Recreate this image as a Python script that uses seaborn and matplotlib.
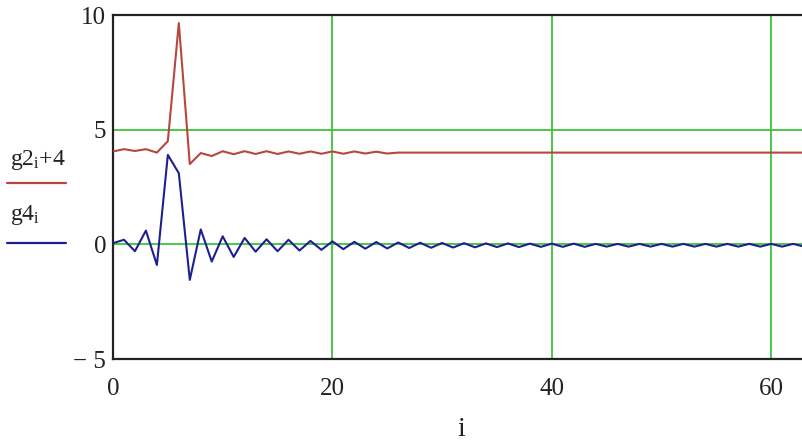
import numpy as np
import pandas as pd
import matplotlib
matplotlib.use("Agg")
import matplotlib.pyplot as plt
from matplotlib.lines import Line2D
import seaborn as sns

# ---- data ----
i_vals = list(range(64))

g2_plus4 = [4.05, 4.15, 4.07, 4.15, 4.00, 4.50, 9.65, 3.50, 3.98, 3.85,
            4.06, 3.93, 4.06, 3.94, 4.06, 3.94, 4.05, 3.95, 4.05, 3.95,
            4.05, 3.95, 4.05, 3.96, 4.04, 3.96, 4.00, 4.00, 4.00, 4.00,
            4.00, 4.00, 4.00, 4.00, 4.00, 4.00, 4.00, 4.00, 4.00, 4.00,
            4.00, 4.00, 4.00, 4.00, 4.00, 4.00, 4.00, 4.00, 4.00, 4.00,
            4.00, 4.00, 4.00, 4.00, 4.00, 4.00, 4.00, 4.00, 4.00, 4.00,
            4.00, 4.00, 4.00, 4.00]

g4 = [0.05, 0.20, -0.30, 0.60, -0.90, 3.90, 3.10, -1.55, 0.65, -0.75,
      0.35, -0.55, 0.28, -0.32, 0.22, -0.30, 0.20, -0.27, 0.15, -0.24,
      0.13, -0.21, 0.11, -0.19, 0.10, -0.18, 0.08, -0.16, 0.07, -0.15,
      0.06, -0.14, 0.05, -0.13, 0.04, -0.12, 0.04, -0.12, 0.03, -0.11,
      0.03, -0.11, 0.03, -0.11, 0.02, -0.10, 0.02, -0.10, 0.02, -0.10,
      0.02, -0.10, 0.02, -0.10, 0.02, -0.10, 0.02, -0.10, 0.02, -0.10,
      0.02, -0.10, 0.02, -0.10]

x_ticks = [0, 20, 40, 60]
y_ticks = [-5, 0, 5, 10]
y_tick_labels = ["\u2212 5", "0", "5", "10"]
legend_labels = [r"g2$_\mathregular{i}$+4", r"g4$_\mathregular{i}$"]
x_label = "i"

df = pd.DataFrame({"i": i_vals, "g2": g2_plus4, "g4": g4})

# ---- style ----
sns.set_style("white")
plt.rcParams["font.family"] = ["Liberation Serif", "DejaVu Serif"]
plt.rcParams["mathtext.fontset"] = "custom"
plt.rcParams["mathtext.rm"] = "Liberation Serif"
plt.rcParams["mathtext.it"] = "Liberation Serif:italic"

red = "#b5473f"
blue = "#1f1f8f"
green = "#3cc43c"

fig = plt.figure(figsize=(8.02, 4.46), dpi=100)
ax = fig.add_axes([113 / 802, 1 - 359 / 446, 1 - 113 / 802 + 0.01, (359 - 15) / 446])

# grid lines
for gx in x_ticks:
    ax.axvline(gx, color=green, lw=1.3, zorder=1)
for gy in y_ticks:
    ax.axhline(gy, color=green, lw=1.3, zorder=1)

sns.lineplot(data=df, x="i", y="g2", ax=ax, color=red, lw=1.5, zorder=3)
sns.lineplot(data=df, x="i", y="g4", ax=ax, color=blue, lw=1.5, zorder=3)

ax.set_xlim(0, (810 - 113) / 10.97)
ax.set_ylim(-5, 10)
ax.set_xticks(x_ticks)
ax.set_xticklabels([str(t) for t in x_ticks])
ax.set_yticks(y_ticks)
ax.set_yticklabels(y_tick_labels)
ax.tick_params(axis="both", length=0, labelsize=18, colors="#222222")
ax.tick_params(axis="x", pad=14)
ax.tick_params(axis="y", pad=5)
ax.set_xlabel(x_label, fontsize=20, labelpad=12, color="#222222")
ax.set_ylabel("")

for side in ["left", "bottom", "top"]:
    ax.spines[side].set_visible(True)
    ax.spines[side].set_color("#222222")
    ax.spines[side].set_linewidth(1.6)
ax.spines["right"].set_visible(False)

# legend at left, Mathcad-style
fig.text(10 / 802, 1 - 160 / 446, legend_labels[0], fontsize=17, color="#222222",
         va="center", ha="left")
fig.add_artist(Line2D([7 / 802, 66 / 802], [1 - 183 / 446] * 2, color=red, lw=1.6,
                      transform=fig.transFigure))
fig.text(10 / 802, 1 - 215 / 446, legend_labels[1], fontsize=17, color="#222222",
         va="center", ha="left")
fig.add_artist(Line2D([7 / 802, 66 / 802], [1 - 243 / 446] * 2, color=blue, lw=1.6,
                      transform=fig.transFigure))

fig.savefig("out.png", dpi=100)
